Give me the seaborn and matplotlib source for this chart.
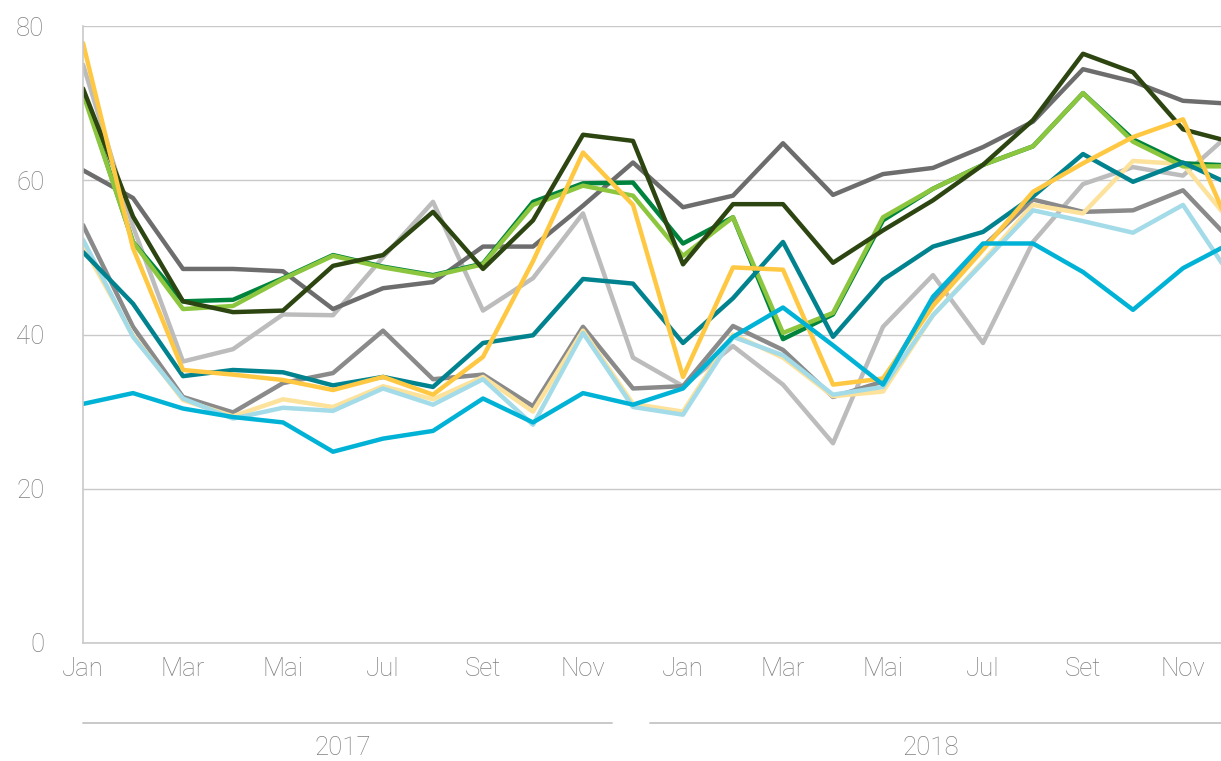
import matplotlib
matplotlib.use("Agg")
import matplotlib.pyplot as plt
import matplotlib.transforms as mtransforms
import numpy as np
import pandas as pd
import seaborn as sns

# Monthly index values, Jan 2017 .. Dec 2018
meses = ["Jan", "Fev", "Mar", "Abr", "Mai", "Jun", "Jul", "Ago", "Set", "Out", "Nov", "Dez"]
anos = ["2017", "2018"]

verde_escuro = [71.9, 55.3, 44.3, 42.9, 43.1, 48.9, 50.3, 55.9, 48.5, 54.8, 65.9, 65.1,
                49.1, 56.9, 56.9, 49.3, 53.5, 57.4, 62.0, 67.8, 76.4, 74.0, 66.6, 64.9]
cinza_escuro = [61.3, 57.7, 48.5, 48.5, 48.2, 43.3, 46.0, 46.8, 51.4, 51.4, 56.7, 62.3,
                56.5, 58.0, 64.8, 58.1, 60.8, 61.6, 64.3, 67.6, 74.4, 72.8, 70.3, 69.9]
cinza_claro = [75.0, 54.0, 36.5, 38.1, 42.6, 42.5, 50.0, 57.2, 43.1, 47.3, 55.7, 37.0,
               33.3, 38.5, 33.5, 25.9, 41.0, 47.7, 38.9, 52.0, 59.5, 61.7, 60.6, 66.4]
cinza_medio = [54.2, 41.0, 31.9, 29.9, 33.7, 35.0, 40.5, 34.2, 34.8, 30.7, 41.0, 33.0,
               33.3, 41.1, 38.0, 31.9, 33.9, 44.5, 51.4, 57.5, 55.9, 56.1, 58.7, 51.9]
amarelo = [77.8, 51.2, 35.4, 34.8, 34.1, 32.8, 34.5, 32.2, 37.1, 49.5, 63.6, 56.8,
           34.5, 48.7, 48.4, 33.5, 34.3, 43.7, 51.0, 58.5, 62.2, 65.6, 67.9, 53.0]
amarelo_claro = [51.5, 39.9, 31.5, 29.4, 31.6, 30.6, 33.3, 31.6, 34.5, 30.0, 40.5, 31.0,
                 30.0, 40.0, 37.0, 32.0, 32.6, 42.5, 49.5, 56.8, 55.7, 62.5, 62.1, 54.2]
verde = [71.5, 52.0, 44.3, 44.5, 47.3, 50.3, 48.8, 47.7, 49.2, 57.2, 59.6, 59.7,
         51.8, 55.2, 39.4, 42.6, 54.8, 58.9, 62.0, 64.4, 71.3, 65.3, 62.2, 61.9]
verde_claro = [71.2, 52.0, 43.3, 43.7, 47.2, 50.2, 48.7, 47.6, 49.1, 56.8, 59.3, 58.0,
               50.2, 55.2, 40.2, 42.8, 55.2, 58.9, 62.0, 64.4, 71.3, 65.0, 61.8, 61.8]
petroleo = [50.7, 44.0, 34.6, 35.4, 35.1, 33.4, 34.5, 33.2, 38.9, 39.9, 47.2, 46.6,
            38.9, 44.7, 52.0, 39.7, 47.1, 51.4, 53.3, 57.9, 63.4, 59.8, 62.3, 59.3]
azul_claro = [52.3, 39.7, 31.7, 29.1, 30.5, 30.1, 33.0, 30.9, 34.2, 28.3, 40.2, 30.6,
              29.6, 39.7, 37.3, 32.2, 33.2, 42.5, 49.3, 56.1, 54.7, 53.2, 56.8, 47.1]
ciano = [31.0, 32.4, 30.4, 29.3, 28.6, 24.8, 26.5, 27.5, 31.7, 28.6, 32.4, 30.9,
         33.0, 39.7, 43.5, 38.6, 33.5, 44.9, 51.8, 51.8, 48.1, 43.2, 48.6, 52.0]

series = {
    "cinza_claro": cinza_claro,
    "cinza_escuro": cinza_escuro,
    "cinza_medio": cinza_medio,
    "amarelo_claro": amarelo_claro,
    "azul_claro": azul_claro,
    "verde": verde,
    "verde_claro": verde_claro,
    "verde_escuro": verde_escuro,
    "petroleo": petroleo,
    "amarelo": amarelo,
    "ciano": ciano,
}
cores = {
    "cinza_claro": "#bcbcbc",
    "cinza_escuro": "#6d6d6d",
    "cinza_medio": "#8a8a8a",
    "amarelo_claro": "#fde29b",
    "azul_claro": "#a3dbe8",
    "verde": "#00843d",
    "verde_claro": "#8cc63f",
    "verde_escuro": "#2c4511",
    "petroleo": "#00838f",
    "amarelo": "#ffc843",
    "ciano": "#00b3d6",
}

n = len(verde_escuro)
df = pd.concat(
    [pd.DataFrame({"mes": np.arange(n), "valor": v, "serie": k}) for k, v in series.items()],
    ignore_index=True,
)

sns.set_theme(style="white")
plt.rcParams["font.family"] = ["Roboto", "DejaVu Sans"]

W, H = 1221, 761
fig = plt.figure(figsize=(W / 100, H / 100), dpi=100)
ax = fig.add_axes([83 / W, 1 - 643 / H, 1 - 83 / W, (643 - 26) / H])

texto = "#808080"
grade = "#c9c9c9"

ax.yaxis.grid(True, color=grade, linewidth=1)
ax.set_axisbelow(True)

sns.lineplot(data=df, x="mes", y="valor", hue="serie", hue_order=list(series.keys()),
             palette=cores, linewidth=3.2, legend=False, ax=ax)

ax.set_xlim(0, 22.76)
ax.set_ylim(0, 80)
ax.set_xlabel("")
ax.set_ylabel("")

ax.set_xticks(np.arange(0, n, 2))
ax.set_xticklabels([meses[i % 12] for i in range(0, n, 2)])
ax.set_yticks([0, 20, 40, 60, 80])

ax.tick_params(axis="x", length=0, pad=10, labelsize=18.5, labelcolor=texto)
ax.tick_params(axis="y", length=5.8, width=1, color=grade, pad=22,
               labelsize=18.5, labelcolor=texto)
for lab in ax.get_xticklabels() + ax.get_yticklabels():
    lab.set_fontweight("light")

for side in ["top", "right"]:
    ax.spines[side].set_visible(False)
for side in ["left", "bottom"]:
    ax.spines[side].set_color(grade)
    ax.spines[side].set_linewidth(1.2)

# Year brackets under the month labels
trans = mtransforms.blended_transform_factory(ax.transData, ax.transAxes)
y_linha = (643 - 723) / (643 - 26)
y_ano = (643 - 748) / (643 - 26)
faixas = [(0.0, 10.58), (11.34, 23.0)]
for ano, (x0, x1) in zip(anos, faixas):
    ax.plot([x0, x1], [y_linha, y_linha], transform=trans, color=grade,
            linewidth=1.4, clip_on=False)
    xm = (x0 + min(x1, 22.76)) / 2 - 0.1
    ax.text(xm, y_ano, ano, transform=trans, ha="center", va="center",
            fontsize=18.5, color=texto, fontweight="light")

fig.savefig("out.png", dpi=100, facecolor="white")
